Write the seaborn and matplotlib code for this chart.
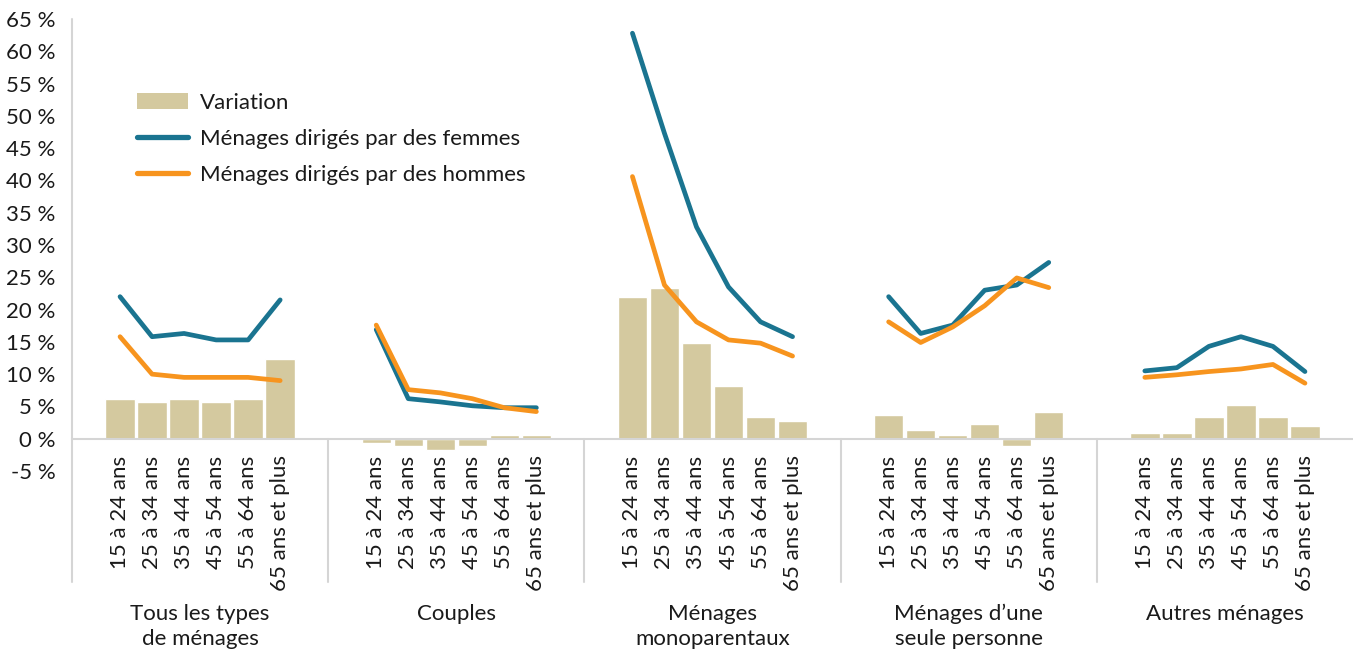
#importing necessary python libraries
import pandas as pd
import seaborn as sns
import matplotlib.pyplot as plt
import matplotlib.transforms as mtransforms
from matplotlib.lines import Line2D
from matplotlib.patches import Patch

#data
ages = ["15 à 24 ans", "25 à 34 ans", "35 à 44 ans", "45 à 54 ans", "55 à 64 ans", "65 ans et plus"]
groupes = ["Tous les types\nde ménages", "Couples", "Ménages\nmonoparentaux",
           "Ménages d’une\nseule personne", "Autres ménages"]

variation = [[6.2, 5.7, 6.2, 5.7, 6.2, 12.4],
             [-0.6, -1.2, -1.7, -1.2, 0.5, 0.5],
             [22.0, 23.4, 14.9, 8.1, 3.3, 2.8],
             [3.7, 1.4, 0.5, 2.3, -1.2, 4.2],
             [0.9, 0.9, 3.3, 5.2, 3.3, 1.9]]
femmes = [[22.0, 15.8, 16.3, 15.3, 15.3, 21.5],
          [16.9, 6.2, 5.7, 5.1, 4.8, 4.8],
          [62.8, 47.3, 32.8, 23.5, 18.1, 15.8],
          [22.0, 16.3, 17.6, 23.0, 23.8, 27.3],
          [10.5, 11.0, 14.3, 15.8, 14.3, 10.4]]
hommes = [[15.8, 10.0, 9.5, 9.5, 9.5, 9.0],
          [17.6, 7.6, 7.1, 6.2, 4.8, 4.2],
          [40.6, 23.8, 18.1, 15.3, 14.8, 12.8],
          [18.1, 14.9, 17.3, 20.6, 24.9, 23.4],
          [9.5, 9.9, 10.4, 10.8, 11.5, 8.6]]

lab_var = "Variation"
lab_f = "Ménages dirigés par des femmes"
lab_h = "Ménages dirigés par des hommes"

c_bar = "#D4C99F"
c_f = "#1A7490"
c_h = "#F7941E"
c_txt = "#1a1a1a"
c_grid = "#D5D5D5"
fs = 16

#each group takes 8 slots: an empty one, the 6 ages, an empty one
slots = 8
rows = []
for g in range(len(groupes)):
    for i in range(len(ages)):
        pos = g * slots + 1 + i
        rows.append({"pos": pos, "groupe": g, "age": ages[i], "variation": variation[g][i],
                     lab_f: femmes[g][i], lab_h: hommes[g][i]})
df = pd.DataFrame(rows)
df_lines = df.melt(id_vars=["pos", "groupe"], value_vars=[lab_f, lab_h],
                   var_name="serie", value_name="taux")

sns.set_style("white")
plt.rcParams['font.family'] = ['Lato', 'DejaVu Sans']

fig = plt.figure(figsize=(13.53, 6.55), dpi=100)
W, H = 1353, 655
ax = fig.add_axes([72 / W, (H - 471) / H, (W - 72) / W, (471 - 19) / H])

sns.barplot(data=df, x="pos", y="variation", native_scale=True, width=0.92,
            color=c_bar, saturation=1, errorbar=None, ax=ax)
sns.lineplot(data=df_lines, x="pos", y="taux", hue="serie", units="groupe",
             estimator=None, palette={lab_f: c_f, lab_h: c_h}, linewidth=3.4,
             legend=False, ax=ax)
for ln in ax.lines:
    ln.set_solid_capstyle("round")
    ln.set_solid_joinstyle("round")

ax.set_xlim(-0.5, len(groupes) * slots - 0.5)
ax.set_ylim(-5, 65)
ax.set_yticks(range(-5, 66, 5))
ax.set_yticklabels([f"{v} %" for v in range(-5, 66, 5)])
ax.set_xticks(df["pos"])
ax.set_xticklabels(df["age"])
ax.tick_params(axis="both", length=0, labelsize=fs, colors=c_txt)
ax.tick_params(axis="y", pad=12)
ax.tick_params(axis="x", pad=12, labelrotation=90)
plt.setp(ax.get_xticklabels(), ha="center", va="top")
ax.set_xlabel("")
ax.set_ylabel("")

for s in ["top", "right", "left"]:
    ax.spines[s].set_visible(False)
ax.spines["bottom"].set_position(("data", 0))
ax.spines["bottom"].set_color(c_grid)
ax.spines["bottom"].set_linewidth(1.5)

#vertical axis line and group separators
tr = mtransforms.blended_transform_factory(ax.transData, fig.transFigure)
y_bas = 1 - 582 / H
ax.add_line(Line2D([-0.5, -0.5], [1 - 19 / H, y_bas], transform=tr, color=c_grid,
                   linewidth=1.5, clip_on=False))
for g in range(1, len(groupes)):
    x = g * slots - 0.5
    ax.add_line(Line2D([x, x], [1 - 439 / H, y_bas], transform=tr, color=c_grid,
                       linewidth=1.5, clip_on=False))

#group labels
for g, nom in enumerate(groupes):
    ax.text(g * slots + 3.5, 1 - 604 / H, nom, transform=tr, ha="center", va="top",
            fontsize=fs, color=c_txt, linespacing=1.3)

handles = [Patch(facecolor=c_bar, edgecolor="none"),
           Line2D([], [], color=c_f, linewidth=3.8, solid_capstyle="round"),
           Line2D([], [], color=c_h, linewidth=3.8, solid_capstyle="round")]
leg = fig.legend(handles, [lab_var, lab_f, lab_h], loc="upper left",
                 bbox_to_anchor=(137 / W, 1 - 93 / H), frameon=False, fontsize=fs,
                 handlelength=2.3, handletextpad=0.55, labelspacing=0.72,
                 borderpad=0, borderaxespad=0)
for t in leg.get_texts():
    t.set_color(c_txt)

fig.savefig("out.png", dpi=100)
